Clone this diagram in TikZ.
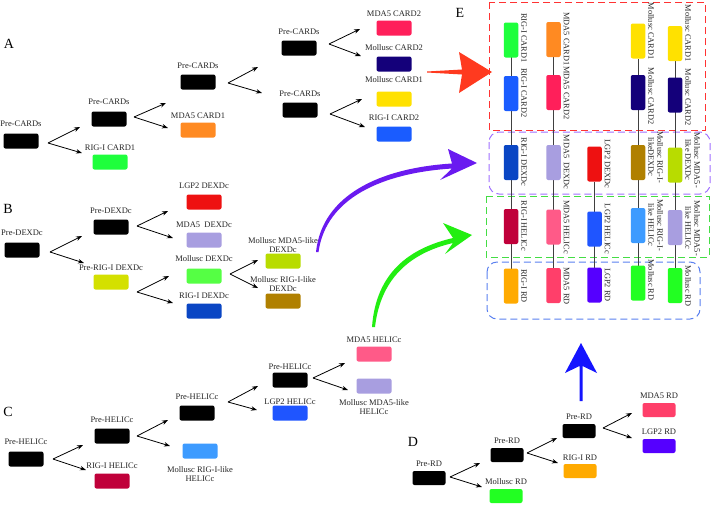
\documentclass[tikz,border=0pt]{standalone}
\usepackage{fontspec}
\setmainfont{Liberation Serif}
\usetikzlibrary{arrows.meta}
\definecolor{cgreen}{HTML}{1EFF3C}
\definecolor{corange}{HTML}{FF8A22}
\definecolor{ccrim}{HTML}{FF1F5A}
\definecolor{cnavy}{HTML}{14007A}
\definecolor{cyellow}{HTML}{FFE100}
\definecolor{cblue}{HTML}{1A5CFF}
\definecolor{cred}{HTML}{EE1111}
\definecolor{clav}{HTML}{A89EE0}
\definecolor{cmgreen}{HTML}{55FF44}
\definecolor{cdblue}{HTML}{0A46C4}
\definecolor{cprerig}{HTML}{D4E000}
\definecolor{clime}{HTML}{B8DC00}
\definecolor{cbrown}{HTML}{B08000}
\definecolor{cwine}{HTML}{C0003A}
\definecolor{clblue}{HTML}{3D9BFF}
\definecolor{chblue}{HTML}{1F55FF}
\definecolor{cpink}{HTML}{FF5A88}
\definecolor{crdgreen}{HTML}{22FF22}
\definecolor{corangerd}{HTML}{FFAA00}
\definecolor{cpinkrd}{HTML}{FF3F6A}
\definecolor{cviolet}{HTML}{5500FF}
\definecolor{arred}{HTML}{FF3A1F}
\definecolor{arpurple}{HTML}{6A1AF0}
\definecolor{argreen}{HTML}{22EE11}
\definecolor{arblue}{HTML}{1414FF}
\definecolor{dred}{HTML}{FF3333}
\definecolor{dpurple}{HTML}{A070FF}
\definecolor{dgreen}{HTML}{44DD44}
\definecolor{dblue}{HTML}{5A80F0}
% tree box: name, x, y, colour, label y, label text
\newcommand\tbox[6]{\node[tb,fill=#4] (#1) at (#2,#3) {};\node[lbl] (#1l) at (#2,#5) {#6};}
% fork: name, fork x,y, upper tip x,y, lower tip x,y
\newcommand\fork[7]{\coordinate (#1) at (#2,#3);\coordinate (#1u) at (#4,#5);\coordinate (#1d) at (#6,#7);
  \draw[ar] (#1) -- (#1u);\draw[ar] (#1) -- (#1d);}
% E box: name, x, centre y, colour, label y, label text
\newcommand\ebox[6]{\node[eb,fill=#4] (#1) at (#2,#3) {};\node[vl] (#1l) at (#2+10,#5) {#6};}
\begin{document}
\begin{tikzpicture}[x=1pt,y=-1pt,
  tb/.style={rounded corners=2pt,minimum width=35pt,minimum height=15pt,inner sep=0pt},
  lbl/.style={font=\fontsize{8.5}{9.5}\selectfont,inner sep=0pt,text=black!85,align=center},
  eb/.style={rounded corners=2pt,minimum width=14.5pt,minimum height=35pt,inner sep=0pt},
  vl/.style={font=\fontsize{8.3}{9}\selectfont,inner sep=0pt,rotate=-90,anchor=south,align=center,text=black!85},
  ar/.style={-{Stealth[length=6pt,width=4.5pt]},line width=0.8pt},
  pl/.style={font=\fontsize{14}{14}\selectfont,inner sep=0pt},
  elink/.style={draw=black!75,line width=0.8pt},
  dsh/.style={line width=1pt,dash pattern=on 7pt off 4pt}]
\useasboundingbox (0,0) rectangle (714,504);
\fill[white] (0,0) rectangle (714,504);

% panel letters
\node[pl] (pA) at (9,44) {A};
\node[pl] (pB) at (8,209) {B};
\node[pl] (pC) at (8,412) {C};
\node[pl] (pD) at (413,442) {D};
\node[pl] (pE) at (460,13) {E};

% ---------- A ----------
\tbox{a1}{21}{141}{black}{124}{Pre-CARDs}
\tbox{a2}{109}{119}{black}{102}{Pre-CARDs}
\tbox{a3}{110}{162}{cgreen}{148}{RIG-I CARD1}
\tbox{a4}{198}{82}{black}{66}{Pre-CARDs}
\tbox{a5}{198}{130}{corange}{116}{MDA5 CARD1}
\tbox{a6}{299}{48}{black}{32}{Pre-CARDs}
\tbox{a7}{300}{110}{black}{94}{Pre-CARDs}
\tbox{a8}{394}{28}{ccrim}{14}{MDA5 CARD2}
\tbox{a9}{394}{64}{cnavy}{48}{Mollusc CARD2}
\tbox{a10}{394}{99}{cyellow}{80}{Mollusc CARD1}
\tbox{a11}{394}{134}{cblue}{118}{RIG-I CARD2}
\fork{fa1}{48}{143}{80}{127}{82}{153}
\fork{fa2}{134}{117}{166}{103}{168}{128}
\fork{fa4}{228}{83}{258}{67}{262}{93}
\fork{fa6}{329}{44}{360}{29}{361}{56}
\fork{fa7}{330}{114}{362}{99}{365}{127}

% ---------- B ----------
\tbox{b1}{22}{250}{black}{233}{Pre-DEXDc}
\tbox{b2}{111}{227}{black}{211}{Pre-DEXDc}
\tbox{b3}{111}{282}{cprerig}{268}{Pre-RIG-I DEXDc}
\tbox{b4}{204}{202}{cred}{186}{LGP2 DEXDc}
\tbox{b5}{204}{240}{clav}{225}{MDA5~ DEXDc}
\tbox{b6}{204}{276}{cmgreen}{259}{Mollusc DEXDc}
\tbox{b7}{204}{311}{cdblue}{296}{RIG-I DEXDc}
\tbox{b8}{283}{261}{clime}{245}{Mollusc MDA5-like\\DEXDc}
\tbox{b9}{283}{301}{cbrown}{284}{Mollusc RIG-I-like\\DEXDc}
\fork{fb1}{50}{252}{82}{236}{84}{263}
\fork{fb2}{137}{226}{168}{211}{173}{238}
\fork{fb3}{137}{292}{169}{276}{173}{303}
\fork{fb6}{230}{274}{258}{260}{258}{288}

% ---------- C ----------
\tbox{c1}{26}{459}{black}{442}{Pre-HELICc}
\tbox{c2}{112}{436}{black}{420}{Pre-HELICc}
\tbox{c3}{112}{481}{cwine}{466}{RIG-I HELICc}
\tbox{c4}{197}{413}{black}{397}{Pre-HELICc}
\tbox{c5}{200}{451}{clblue}{474}{Mollusc RIG-I-like\\HELICc}
\tbox{c6}{290}{380}{black}{367}{Pre-HELICc}
\tbox{c7}{290}{413}{chblue}{402}{LGP2 HELICc}
\tbox{c8}{374}{354}{cpink}{340}{MDA5 HELICc}
\tbox{c9}{374}{386}{clav}{407}{Mollusc MDA5-like\\HELICc}
\fork{fc1}{53}{459}{83}{445}{86}{470}
\fork{fc2}{137}{436}{168}{420}{170}{446}
\fork{fc4}{228}{402}{258}{386}{257}{410}
\fork{fc6}{313}{378}{345}{363}{348}{390}

% ---------- D ----------
\begin{scope}[tb/.append style={minimum width=33pt,minimum height=14pt}]
\tbox{d1}{429}{478}{black}{464}{Pre-RD}
\tbox{d2}{507}{455}{black}{441}{Pre-RD}
\tbox{d3}{506}{496}{crdgreen}{482}{Mollusc RD}
\tbox{d4}{579}{431}{black}{417}{Pre-RD}
\tbox{d5}{580}{471}{corangerd}{458}{RIG-I RD}
\tbox{d6}{659}{410}{cpinkrd}{396}{MDA5 RD}
\tbox{d7}{659}{446}{cviolet}{432}{LGP2 RD}
\end{scope}
\fork{fd1}{450}{477}{480}{463}{482}{487}
\fork{fd2}{527}{453}{557}{438}{558}{463}
\fork{fd4}{603}{428}{632}{413}{632}{438}

% ---------- E ----------
\draw[dsh,draw=dred] (489,2) rectangle (705,130);
\draw[dsh,draw=dpurple,rounded corners=10pt] (489,132) rectangle (710,194);
\draw[dsh,draw=dgreen] (486,196) rectangle (709,257);
\draw[dsh,draw=dblue,rounded corners=10pt] (487,262) rectangle (700,319);

\coordinate (l1t) at (511,57);   \coordinate (l1b) at (511,270);
\coordinate (l2t) at (553.5,57); \coordinate (l2b) at (553.5,270);
\coordinate (l3t) at (594.5,182);\coordinate (l3b) at (594.5,268);
\coordinate (l4t) at (638,59);   \coordinate (l4b) at (638,267);
\coordinate (l5t) at (675,61);   \coordinate (l5b) at (675,269);
\draw[elink] (l1t) -- (l1b);
\draw[elink] (l2t) -- (l2b);
\draw[elink] (l3t) -- (l3b);
\draw[elink] (l4t) -- (l4b);
\draw[elink] (l5t) -- (l5b);

\ebox{e11}{511}{40}{cgreen}{38}{RIG-I CARD1}
\ebox{e12}{511}{93.5}{cblue}{93}{RIG-I CARD2}
\ebox{e13}{511}{162.5}{cdblue}{162}{RIG-I DEXDc}
\ebox{e14}{511}{226.5}{cwine}{226}{RIG-I HELICc}
\ebox{e15}{511}{286}{corangerd}{286}{RIG-I RD}

\ebox{e21}{553.5}{39.5}{corange}{39}{MDA5 CARD1}
\ebox{e22}{553.5}{92.5}{ccrim}{93}{MDA5 CARD2}
\ebox{e23}{553.5}{162.5}{clav}{162}{MDA5~ DEXDc}
\ebox{e24}{553.5}{227}{cpink}{227}{MDA5 HELICc}
\ebox{e25}{553.5}{285.5}{cpinkrd}{286}{MDA5 RD}

\ebox{e33}{594.5}{164}{cred}{164}{LGP2 DEXDc}
\ebox{e34}{594.5}{229}{chblue}{229}{LGP2 HELICc}
\ebox{e35}{594.5}{285}{cviolet}{285}{LGP2 RD}

\ebox{e41}{638}{41}{cyellow}{31}{Mollusc CARD1}
\ebox{e42}{638}{92.5}{cnavy}{96}{Mollusc CARD2}
\ebox{e43}{638}{162.5}{cbrown}{157}{Mollusc RIG-I-\\likeDEXDc}
\ebox{e44}{638}{225.5}{clblue}{225}{Mollusc RIG-I-\\like HELICc}
\ebox{e45}{638}{283}{crdgreen}{280}{Mollusc RD}

\ebox{e51}{675}{43.5}{cyellow}{33}{Mollusc CARD1}
\ebox{e52}{675}{95}{cnavy}{97}{Mollusc CARD2}
\ebox{e53}{675}{165}{clime}{160}{Mollusc MDA5-\\like DEXDc}
\ebox{e54}{675}{227.5}{clav}{228}{Mollusc MDA5-\\like HELICc}
\ebox{e55}{675}{285.5}{crdgreen}{286}{Mollusc RD}

% ---------- big arrows ----------
% red (A -> E)
\fill[arred] (427,71.5) -- (462,69.5) -- (459,52) -- (492,72) -- (459,93) -- (462,74.5) -- (427,72.5) -- cycle;
% purple (B -> E)
\fill[arpurple] (316,252) .. controls (322,195) and (380,168) .. (452,163.5)
  -- (448,149) -- (477,163) -- (440,180) -- (452,168.5)
  .. controls (382,173) and (326,198) .. (318.5,252) -- cycle;
% green (C -> E)
\fill[argreen] (372,327) .. controls (376,272) and (410,248) .. (453,238)
  -- (443,223) -- (472,235) -- (445,254) -- (453,243)
  .. controls (414,252) and (381,275) .. (375,327) -- cycle;
% blue (D -> E)
\fill[arblue] (579.5,401) -- (579.5,366) -- (565,373) -- (581,343) -- (597,373) -- (582.5,366) -- (582.5,401) -- cycle;
\end{tikzpicture}
\end{document}
